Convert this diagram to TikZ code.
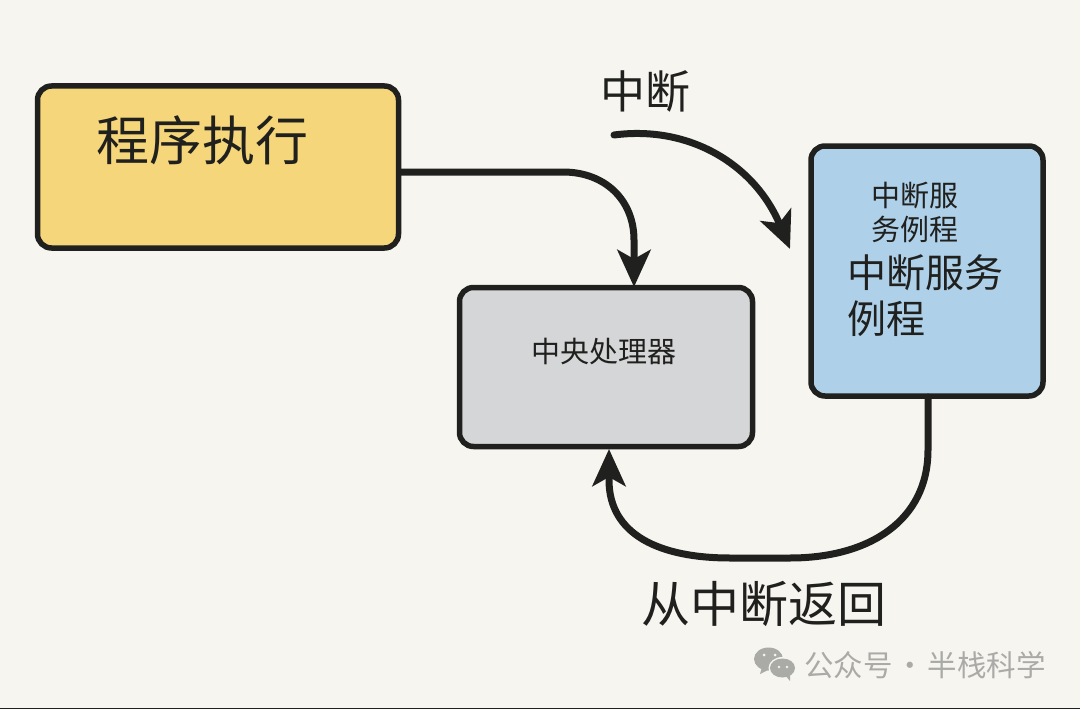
\documentclass[tikz,border=0pt]{standalone}
\usepackage{fontspec}
\newfontfamily\cjk{Noto Sans CJK SC}
\usetikzlibrary{arrows.meta}
\definecolor{paper}{RGB}{247,245,240}
\definecolor{ink}{RGB}{32,32,30}
\definecolor{execfill}{RGB}{246,214,122}
\definecolor{cpufill}{RGB}{213,214,215}
\definecolor{isrfill}{RGB}{174,209,233}
\definecolor{markgray}{RGB}{170,170,167}
\tikzset{
  box/.style={draw=ink,line width=5.5pt,rounded corners=14pt,inner sep=0pt},
  label/.style={font=\cjk,text=ink,inner sep=0pt,align=left},
  flow/.style={draw=ink,line width=7pt,line cap=round,-{Stealth[length=37pt,width=33pt,inset=9pt]}},
}
\begin{document}
\begin{tikzpicture}[x=1pt,y=-1pt]
  \useasboundingbox[fill=paper] (0,0) rectangle (1080,709);
  \node[box,fill=execfill,minimum width=361pt,minimum height=162pt] (exec) at (218,167) {};
  \node[box,fill=cpufill,minimum width=293pt,minimum height=159pt] (cpu) at (606,367) {};
  \node[box,fill=isrfill,minimum width=232pt,minimum height=250pt] (isr) at (927,271) {};
  \node[label,font=\cjk\fontsize{53}{53}\selectfont] (t1) at (202,140) {程序执行};
  \node[label,font=\cjk\fontsize{29}{29}\selectfont] (t2) at (604,351) {中央处理器};
  \node[label,font=\cjk\fontsize{29}{34}\selectfont,align=center] (t3) at (915,212) {中断服\\务例程};
  \node[label,font=\cjk\fontsize{39}{46}\selectfont] (t4) at (925,296) {中断服务\\例程};
  \node[label,font=\cjk\fontsize{45}{45}\selectfont] (t5) at (645,91) {中断};
  \node[label,font=\cjk\fontsize{49}{49}\selectfont] (t6) at (764,604) {从中断返回};
  \node[label,font=\cjk\fontsize{29.5}{30}\selectfont,text=markgray] (t7) at (925,665) {公众号\hspace{3pt}·\hspace{3pt}半栈科学};
  % wechat mark
  \fill[markgray] (768.5,659) ellipse (14.5pt and 11.5pt);
  \fill[markgray] (762,667) -- (760,674) -- (770,669) -- cycle;
  \fill[paper] (782.5,668) ellipse (14pt and 11pt);
  \fill[markgray] (782.5,668) ellipse (12.5pt and 9.5pt);
  \fill[markgray] (785,675) -- (790,681) -- (790,673) -- cycle;
  \fill[paper] (764,655) circle (1.5pt) (775,655) circle (1.5pt);
  \fill[paper] (779,667) circle (1.3pt) (787,667) circle (1.3pt);
  \fill[ink] (0,708) rectangle (1080,709);
  \coordinate (start) at (614,135);
  \coordinate (execout) at (400,172);
  \coordinate (isrout) at (928,397);
  \draw[flow] (execout) -- (563,172) .. controls (605,172) and (634,200) .. (634,240) -- (634,287);
  \draw[flow] (start) .. controls (690,125) and (755,165) .. (790,249);
  \draw[flow] (isrout) -- (928,450) .. controls (928,520) and (870,558) .. (790,558) -- (730,558) .. controls (660,558) and (609,535) .. (609,480) -- (609,449);
\end{tikzpicture}
\end{document}
